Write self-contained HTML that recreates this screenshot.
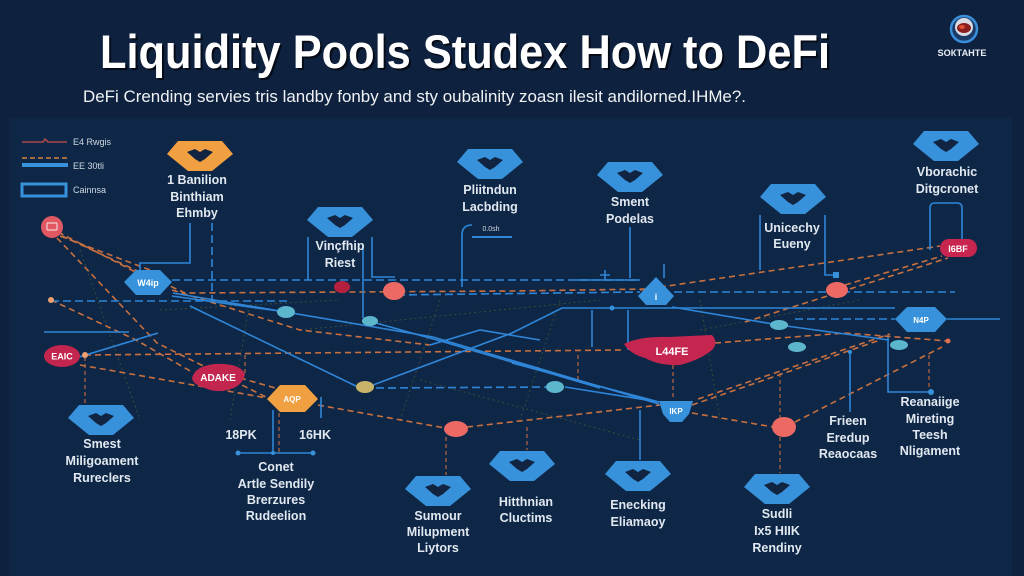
<!DOCTYPE html>
<html><head><meta charset="utf-8"><style>
html,body{margin:0;padding:0;background:#0e223f;}
svg{display:block;}
text{font-family:"Liberation Sans",Arial,sans-serif;}
.lb{font-size:12.5px;font-weight:bold;fill:#e1e8f0;text-anchor:middle;}
.od{fill:none;stroke:#c8703f;stroke-width:1.6;stroke-dasharray:6 4;}
.ov{fill:none;stroke:#b9663e;stroke-width:1.2;stroke-dasharray:4 3;}
.bl{fill:none;stroke:#2f86d8;stroke-width:1.6;}
.bd{fill:none;stroke:#2f86d8;stroke-width:1.6;stroke-dasharray:8 4;}
.fd{fill:none;stroke:#4d5a34;stroke-width:1;stroke-dasharray:2 3;opacity:.7;}
.tw{font-weight:bold;fill:#fff;text-anchor:middle;}
</style></head><body>
<svg width="1024" height="576" viewBox="0 0 1024 576" xmlns="http://www.w3.org/2000/svg">
<defs>
<g id="hb"><polygon points="-22,-15 22,-15 33,-2 12,15 -12,15 -33,-2" fill="#3792db"/><path d="M-13,-4 L-5,-7 L0,-4 L5,-7 L13,-4 L5,3 L0,6 L-5,3 Z" fill="#112441"/></g>
<g id="ho"><polygon points="-22,-15 22,-15 33,-2 12,15 -12,15 -33,-2" fill="#f0a040"/><path d="M-13,-4 L-5,-7 L0,-4 L5,-7 L13,-4 L5,3 L0,6 L-5,3 Z" fill="#112441"/></g>
</defs>
<rect x="0" y="0" width="1024" height="576" fill="#0e223f"/>
<rect x="10" y="118" width="1002" height="458" fill="#0f2747"/>

<!-- title -->
<text x="102" y="70" font-size="47" font-weight="bold" fill="#050c18" textLength="730" lengthAdjust="spacingAndGlyphs">Liquidity Pools Studex How to DeFi</text>
<text x="100" y="68" font-size="47" font-weight="bold" fill="#ffffff" textLength="730" lengthAdjust="spacingAndGlyphs">Liquidity Pools Studex How to DeFi</text>
<text x="83" y="102" font-size="16.5" fill="#f0f2f5" textLength="663" lengthAdjust="spacingAndGlyphs">DeFi Crending servies tris landby fonby and sty oubalinity zoasn ilesit andilorned.IHMe?.</text>

<!-- logo -->
<circle cx="964" cy="29" r="13" fill="#1c3a66" stroke="#3a8fdc" stroke-width="2.5"/>
<circle cx="964" cy="27" r="9" fill="#d8dde5"/>
<ellipse cx="964" cy="28" rx="7" ry="5" fill="#8a1f1f"/>
<ellipse cx="962" cy="27" rx="3" ry="2" fill="#e05030"/>
<text x="962" y="56" font-size="9" font-weight="bold" fill="#e8edf3" text-anchor="middle" textLength="49" lengthAdjust="spacingAndGlyphs">SOКТАНТE</text>

<!-- legend -->
<path d="M22,142 L43,142 L45,139 L48,142 L67,142" stroke="#a8484a" stroke-width="1.6" fill="none"/>
<text x="73" y="145" font-size="9" fill="#cfd8e3">E4 Rwgis</text>
<line x1="22" y1="158" x2="68" y2="158" stroke="#d0823a" stroke-width="1.6" stroke-dasharray="5 3"/>
<line x1="22" y1="165" x2="68" y2="165" stroke="#3792db" stroke-width="4"/>
<text x="73" y="169" font-size="9" fill="#cfd8e3">EE 30tli</text>
<rect x="22" y="184" width="44" height="12" fill="none" stroke="#3792db" stroke-width="3"/>
<text x="73" y="193" font-size="9" fill="#cfd8e3">Cainnsa</text>

<!-- faint lines -->
<path class="fd" d="M80,250 L140,420"/>
<path class="fd" d="M250,300 L230,420"/>
<path class="fd" d="M440,300 L400,420"/>
<path class="fd" d="M560,300 L520,420"/>
<path class="fd" d="M700,300 L720,420"/>
<path class="fd" d="M300,330 L600,300"/>
<path class="fd" d="M420,380 L640,440"/>
<path class="fd" d="M700,330 L860,300"/>
<path class="fd" d="M160,310 L340,300"/>

<!-- orange dashed connectors -->
<path class="od" d="M58,232 L147,278"/>
<path class="od" d="M60,236 L150,270"/>
<path class="od" d="M62,236 L185,293 L512,291 L650,289"/>
<path class="od" d="M57,238 L157,343 L268,398"/>
<path class="od" d="M51,300 L136,340 L192,372"/>
<path class="od" d="M85,355 L625,350"/>
<path class="od" d="M80,365 L267,398"/>
<path class="od" d="M318,405 L445,428"/>
<path class="od" d="M467,427 L660,405"/>
<path class="od" d="M692,413 L773,427"/>
<path class="od" d="M795,422 L942,347"/>
<path class="od" d="M692,405 L880,340"/>
<path class="od" d="M698,399 L890,334"/>
<path class="od" d="M715,343 L845,333 L948,341"/>
<path class="od" d="M640,290 L940,246"/>
<path class="od" d="M845,285 L942,256"/>
<path class="od" d="M745,322 L948,258"/>
<path class="od" d="M172,290 L300,330 L430,345"/>
<path class="od" d="M240,378 L300,395"/>
<!-- orange vertical dashed -->
<path class="ov" d="M85,357 L85,405"/>
<path class="ov" d="M279,413 L279,452"/>
<path class="ov" d="M446,437 L446,475"/>
<path class="ov" d="M527,427 L527,450"/>
<path class="ov" d="M673,365 L673,400"/>
<path class="ov" d="M780,373 L780,418"/>
<path class="ov" d="M780,437 L780,473"/>
<path class="ov" d="M929,355 L929,390"/>
<path class="ov" d="M245,355 L245,375"/>
<path class="ov" d="M578,355 L578,380"/>

<!-- blue connectors -->
<path class="bd" d="M172,280 L640,280"/>
<path class="bd" d="M674,292 L955,292"/>
<path class="bd" d="M51,301 L290,301"/>
<path class="bd" d="M397,295 L640,292"/>
<path class="bl" d="M172,296 L286,312"/>
<path class="bl" d="M376,323 L444,342 L600,388"/>
<path class="bl" d="M190,306 L358,387"/>
<path class="bl" d="M373,385 L512,333 L562,308 L895,308"/>
<path class="bd" d="M376,388 L554,387"/>
<path class="bl" d="M565,387 L659,402"/>
<path class="bl" d="M44,332 L129,332"/>
<path class="bl" d="M79,357 L158,333"/>
<path class="bl" d="M173,293 L433,337 L659,404"/>
<path class="bl" d="M512,363 L659,402"/>
<path class="bl" d="M672,307 L779,325 L889,340"/>
<path class="bd" d="M795,319 L895,319"/>
<path class="bl" d="M947,319 L1000,319"/>
<path class="bl" d="M430,345 L480,330 L540,340"/>
<!-- blue verticals / frames -->
<path class="bl" d="M190,223 L190,263 L140,263 L140,270"/>
<path class="bd" d="M212,223 L212,300"/>
<path class="bl" d="M308,237 L308,280"/>
<path class="bl" d="M372,237 L372,277 L395,277"/>
<path class="bl" d="M363,245 L363,318"/>
<path class="bl" d="M472,225 Q462,225 462,235 L462,287"/>
<line x1="472" y1="237" x2="512" y2="237" stroke="#2f86d8" stroke-width="2"/>
<text x="491" y="231" font-size="7" fill="#cfd8e3" text-anchor="middle">0.0sh</text>
<path class="bl" d="M630,227 L630,278"/>
<path class="bl" d="M575,280 L640,280"/>
<path class="bl" d="M605,270 L605,280 M600,275 L610,275"/>
<path class="bl" d="M664,264 L664,278"/>
<path class="bl" d="M592,310 L592,347"/>
<path class="bl" d="M628,310 L628,350"/>
<path class="bl" d="M760,215 L760,270"/>
<path class="bl" d="M825,215 L825,275 L836,275"/>
<rect x="833" y="272" width="6" height="6" fill="#3792db"/>
<path class="bl" d="M930,250 L930,208 Q930,203 935,203 L957,203 Q962,203 962,208 L962,242"/>
<path class="bl" d="M273,410 L273,453"/>
<path class="bl" d="M238,453 L313,453"/>
<circle cx="238" cy="453" r="2.5" fill="#3792db"/>
<circle cx="313" cy="453" r="2.5" fill="#3792db"/>
<circle cx="273" cy="453" r="2" fill="#3792db"/>
<path class="bl" d="M321,397 L321,418"/>
<path class="bl" d="M640,410 L640,460"/>
<path class="bl" d="M850,352 L850,412"/>
<circle cx="850" cy="352" r="2" fill="#3792db"/>
<path class="bl" d="M888,337 L888,392 L931,392"/>
<circle cx="931" cy="392" r="3" fill="#3792db"/>
<circle cx="612" cy="308" r="2.5" fill="#3792db"/>

<!-- hex nodes top -->
<use href="#ho" transform="translate(200,156)"/>
<use href="#hb" transform="translate(490,164)"/>
<use href="#hb" transform="translate(630,177)"/>
<use href="#hb" transform="translate(340,222)"/>
<use href="#hb" transform="translate(793,199)"/>
<use href="#hb" transform="translate(946,146)"/>
<!-- hex nodes bottom -->
<use href="#hb" transform="translate(101,420)"/>
<use href="#hb" transform="translate(438,491)"/>
<use href="#hb" transform="translate(522,466)"/>
<use href="#hb" transform="translate(638,476)"/>
<use href="#hb" transform="translate(777,489)"/>

<!-- small nodes -->
<circle cx="52" cy="227" r="11" fill="#e25862"/>
<rect x="47" y="223" width="10" height="7" rx="1" fill="none" stroke="#f5d0d0" stroke-width="1.2"/>
<polygon points="124,282 136,270 160,270 172,282 160,295 136,295" fill="#3792db"/>
<text x="148" y="286" font-size="9" class="tw">W4ip</text>
<ellipse cx="342" cy="287" rx="8" ry="6" fill="#b4203e"/>
<ellipse cx="394" cy="291" rx="11" ry="9" fill="#ec6a63"/>
<ellipse cx="286" cy="312" rx="9" ry="6" fill="#5cb6cc"/>
<ellipse cx="370" cy="321" rx="8" ry="5" fill="#5cb6cc"/>
<polygon points="656,277 674,296 666,305 646,305 638,296" fill="#3792db"/>
<text x="656" y="300" font-size="9" class="tw">i</text>
<ellipse cx="837" cy="290" rx="11" ry="8" fill="#ec6a63"/>
<rect x="940" y="239" width="37" height="18" rx="9" fill="#c8264f"/>
<text x="958" y="252" font-size="9" class="tw">I6BF</text>
<polygon points="895,319 907,307 935,307 947,319 935,332 907,332" fill="#3792db"/>
<text x="921" y="323" font-size="8" class="tw">N4P</text>
<ellipse cx="779" cy="325" rx="9" ry="5" fill="#5cb6cc"/>
<ellipse cx="797" cy="347" rx="9" ry="5" fill="#5cb6cc"/>
<ellipse cx="899" cy="345" rx="9" ry="5" fill="#5cb6cc"/>
<circle cx="948" cy="341" r="2.5" fill="#e07050"/>
<path d="M624,344 Q640,336 668,337 L712,335 Q719,343 712,350 Q700,360 680,365 Q660,366 645,358 Q630,354 624,344 Z" fill="#c42650"/>
<text x="672" y="355" font-size="11" class="tw">L44FE</text>
<ellipse cx="555" cy="387" rx="9" ry="6" fill="#5cb6cc"/>
<ellipse cx="62" cy="356" rx="18" ry="11" fill="#c2254e"/>
<text x="62" y="359.5" font-size="9" class="tw">EAIC</text>
<circle cx="85" cy="355" r="3" fill="#f0a070"/>
<circle cx="51" cy="300" r="3" fill="#f0a070"/>
<path d="M192,378 Q195,366 215,364 Q240,363 245,374 Q243,386 228,390 Q215,393 205,388 Q193,385 192,378 Z" fill="#c2254e"/>
<text x="218" y="381" font-size="10" class="tw">ADAKE</text>
<polygon points="267,399 280,385 305,385 318,399 305,412 280,412" fill="#f0a040"/>
<text x="292" y="402" font-size="8" class="tw">AQP</text>
<ellipse cx="365" cy="387" rx="9" ry="6" fill="#c7b46a"/>
<ellipse cx="456" cy="429" rx="12" ry="8" fill="#ec6a63"/>
<polygon points="659,401 693,401 689,414 682,422 670,422 663,414" fill="#3792db"/>
<text x="676" y="414" font-size="8" class="tw">IKP</text>
<ellipse cx="784" cy="427" rx="12" ry="10" fill="#ec6a63"/>

<!-- labels -->
<text class="lb" x="197" y="184">1 Banilion</text>
<text class="lb" x="197" y="201">Binthiam</text>
<text class="lb" x="197" y="217">Ehmby</text>
<text class="lb" x="490" y="194">Pliitndun</text>
<text class="lb" x="490" y="211">Lacbding</text>
<text class="lb" x="630" y="206">Sment</text>
<text class="lb" x="630" y="223">Podelas</text>
<text class="lb" x="340" y="250">Vinçfhip</text>
<text class="lb" x="340" y="267">Riest</text>
<text class="lb" x="792" y="232">Unicechy</text>
<text class="lb" x="792" y="248">Eueny</text>
<text class="lb" x="947" y="176">Vborachic</text>
<text class="lb" x="947" y="193">Ditgcronet</text>

<text class="lb" x="102" y="448">Smest</text>
<text class="lb" x="102" y="465">Miligoament</text>
<text class="lb" x="102" y="482">Rureclers</text>
<text class="lb" x="241" y="439" font-size="11">18PK</text>
<text class="lb" x="315" y="439" font-size="11">16HK</text>
<text class="lb" x="276" y="471">Conet</text>
<text class="lb" x="276" y="488">Artle Sendily</text>
<text class="lb" x="276" y="504">Brerzures</text>
<text class="lb" x="276" y="520">Rudeelion</text>
<text class="lb" x="438" y="520">Sumour</text>
<text class="lb" x="438" y="536">Milupment</text>
<text class="lb" x="438" y="552">Liytors</text>
<text class="lb" x="526" y="506">Hitthnian</text>
<text class="lb" x="526" y="522">Cluctims</text>
<text class="lb" x="638" y="509">Enecking</text>
<text class="lb" x="638" y="526">Eliamaoy</text>
<text class="lb" x="777" y="518">Sudli</text>
<text class="lb" x="777" y="535">Ix5 HIIK</text>
<text class="lb" x="777" y="552">Rendiny</text>
<text class="lb" x="848" y="425">Frieen</text>
<text class="lb" x="848" y="442">Eredup</text>
<text class="lb" x="848" y="458">Reaocaas</text>
<text class="lb" x="930" y="406">Reanaiige</text>
<text class="lb" x="930" y="423">Mireting</text>
<text class="lb" x="930" y="439">Teesh</text>
<text class="lb" x="930" y="455">Nligament</text>
</svg>
</body></html>
